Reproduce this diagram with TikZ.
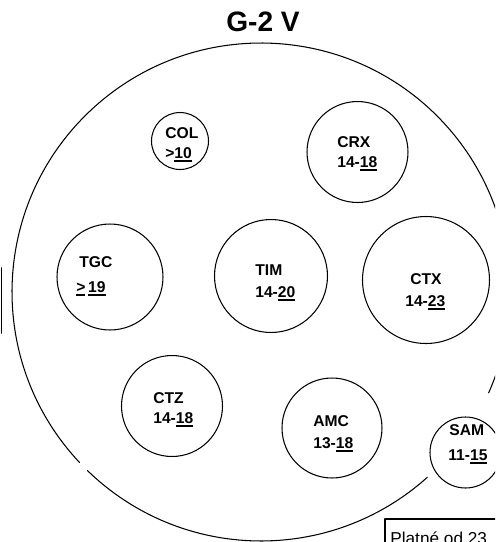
\documentclass[tikz,border=0pt]{standalone}
\usepackage{fontspec}
\setmainfont{Liberation Sans}
\newcommand{\uln}[1]{\setbox0\hbox{#1}\rlap{\rule[-2.2pt]{\wd0}{0.9pt}}\box0}
\begin{document}
\begin{tikzpicture}[x=0.02cm,y=-0.02cm,line cap=round,line join=round,
  stand/.style={draw,circle,line width=0.6pt,inner sep=0pt,outer sep=0pt},
  lbl/.style={anchor=base west,inner sep=0pt,font=\bfseries\fontsize{8.9pt}{10pt}\selectfont}]
  \useasboundingbox (0,0) rectangle (495,542);
  \clip (0,0) rectangle (495,542);
  \node[anchor=base,inner sep=0pt,font=\bfseries\fontsize{16pt}{19pt}\selectfont] (title) at (263,31) {G-2 V};
  % hall outline
  \coordinate (hall) at (261,292);
  \draw[line width=0.6pt] (hall) ++(48.1:249) arc[start angle=48.1,end angle=134.2,radius=249];
  \draw[line width=0.6pt] (hall) ++(136.8:249) arc[start angle=136.8,end angle=383.9,radius=249];
  \draw[line width=1.1pt] (1.5,268) -- (1.5,333);
  % stands
  \node[stand,minimum size=1.14cm] (col) at (180,141) {};
  \node[stand,minimum size=2.02cm] (crx) at (357.5,152) {};
  \node[stand,minimum size=2.12cm] (tgc) at (110,277) {};
  \node[stand,minimum size=2.26cm] (tim) at (271,276) {};
  \node[stand,minimum size=2.54cm] (ctx) at (426,280) {};
  \node[stand,minimum size=2.02cm] (ctz) at (172,406) {};
  \node[stand,minimum size=2.00cm] (amc) at (332,428) {};
  \node[stand,minimum size=1.42cm] (sam) at (465.5,452.5) {};
  % labels
  \node[lbl] (col-name) at (165,138) {COL};
  \node[lbl] (col-hours) at (165,158) {>\uln{10}};
  \node[lbl] (crx-name) at (337,147) {CRX};
  \node[lbl] (crx-hours) at (337,167) {14-\uln{18}};
  \node[lbl] (tgc-name) at (79,267) {TGC};
  \node[lbl] (tgc-hours) at (76,292) {\uln{>}\hspace{1.5pt}\uln{19}};
  \node[lbl] (tim-name) at (255,275) {TIM};
  \node[lbl] (tim-hours) at (255,297) {14-\uln{20}};
  \node[lbl] (ctx-name) at (410,284) {CTX};
  \node[lbl] (ctx-hours) at (405,306) {14-\uln{23}};
  \node[lbl] (ctz-name) at (153,403) {CTZ};
  \node[lbl] (ctz-hours) at (153,423) {14-\uln{18}};
  \node[lbl] (amc-name) at (313,426) {AMC};
  \node[lbl] (amc-hours) at (313,448) {13-\uln{18}};
  \node[lbl] (sam-name) at (449,435) {SAM};
  \node[lbl] (sam-hours) at (448,460) {11-\uln{15}};
  % validity box
  \draw[line width=0.7pt] (385,519) rectangle (520,560);
  \node[anchor=base west,inner sep=0pt,font=\fontsize{9.8pt}{11pt}\selectfont] (valid) at (390,544) {Platné od 23};
\end{tikzpicture}
\end{document}
